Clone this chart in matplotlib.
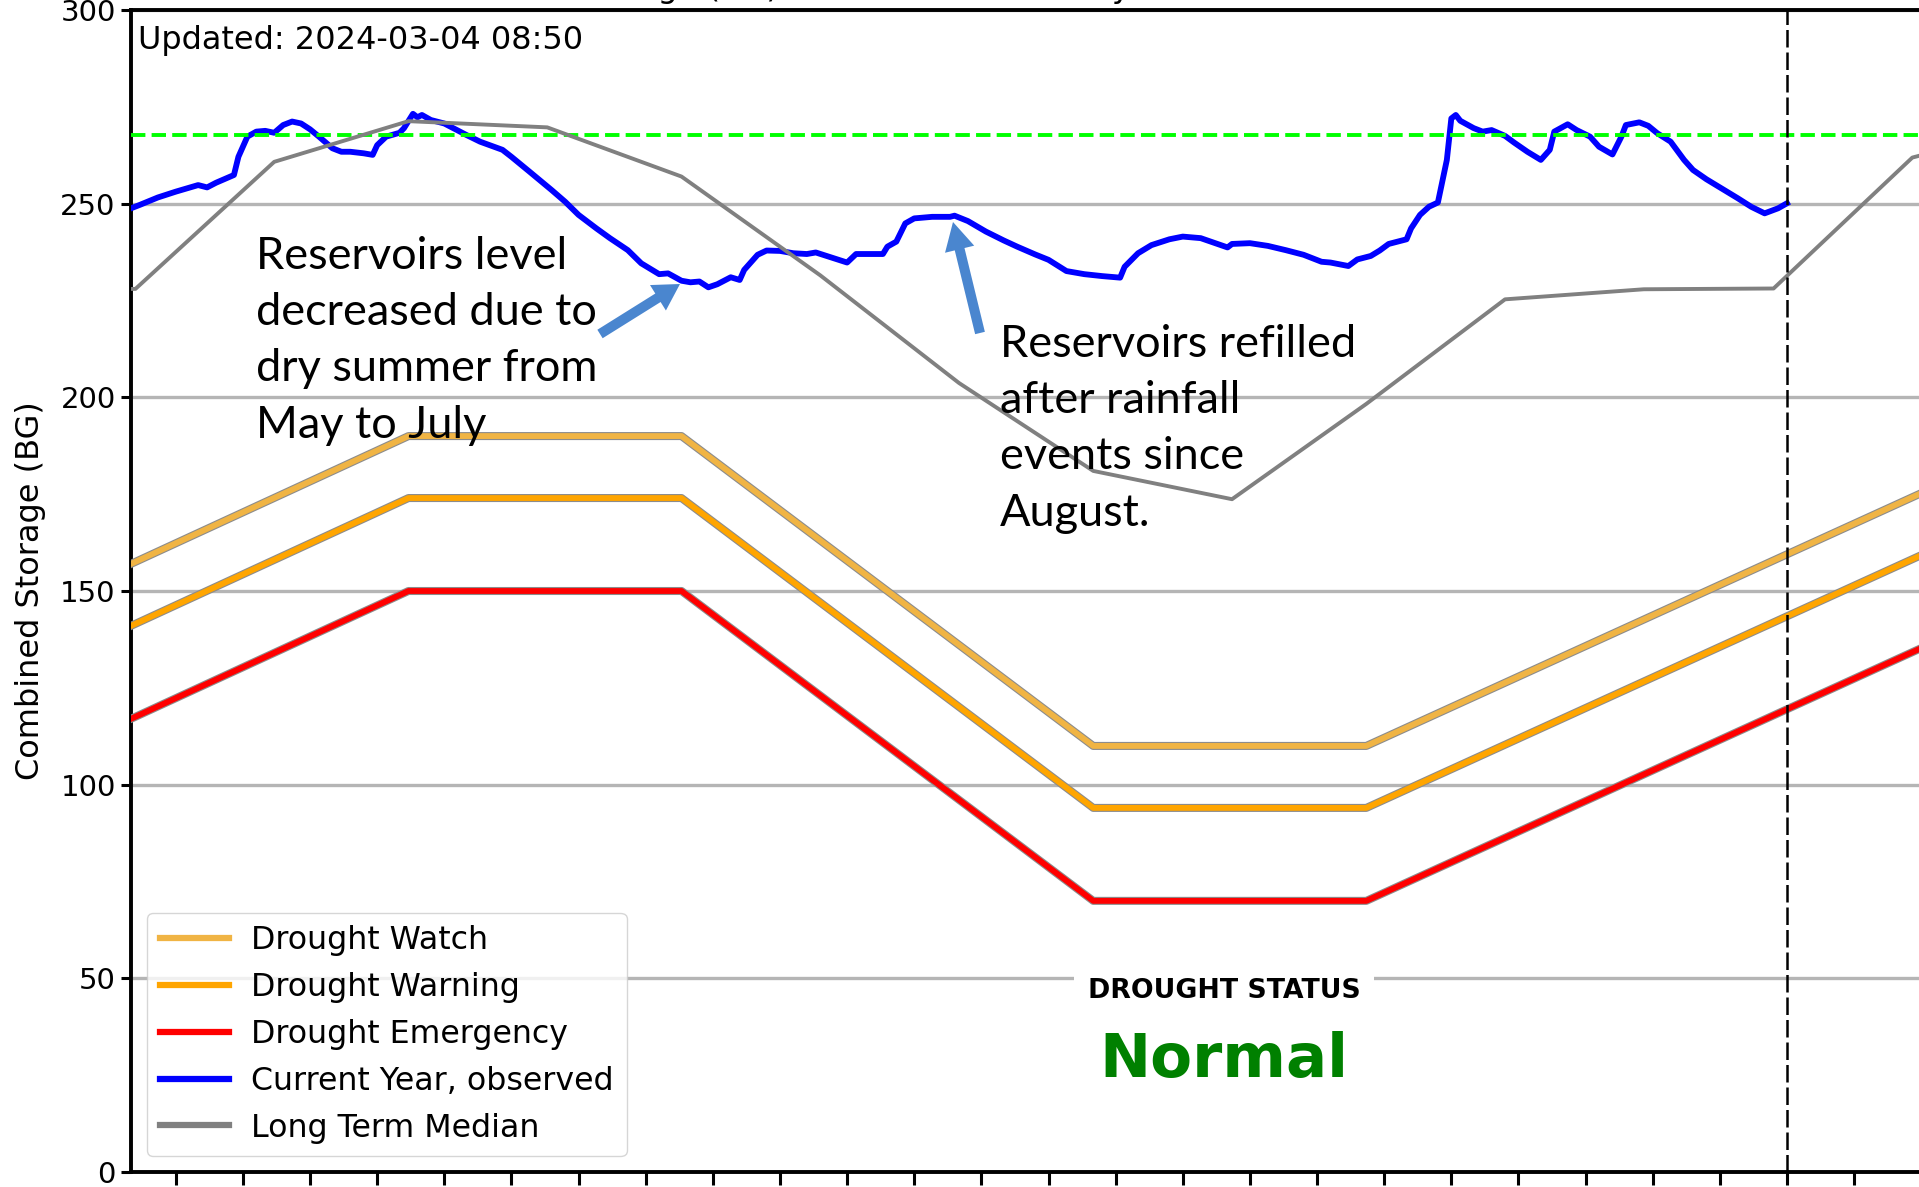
import datetime as dt
import numpy as np
import matplotlib
matplotlib.use("Agg")
import matplotlib.pyplot as plt
import matplotlib.patheffects as pe
from matplotlib.lines import Line2D
from matplotlib.patches import FancyArrow

W, H = 1919, 1187

START = np.datetime64("2023-02-28")
TODAY = np.datetime64("2024-03-04")
END = np.datetime64("2024-05-15")

# drought operating curves (BG) at their breakpoints
curve_dates = ["2023-02-28", "2023-05-01", "2023-07-01", "2023-10-01", "2023-12-01", "2024-05-01"]
watch = [157, 190, 190, 110, 110, 190]
warning = [141, 174, 174, 94, 94, 174]
emergency = [117, 150, 150, 70, 70, 150]

# long term median, 1st of each month
median_dates = ["2023-02-01", "2023-03-01", "2023-04-01", "2023-05-01", "2023-06-01",
                "2023-07-01", "2023-08-01", "2023-09-01", "2023-10-01", "2023-11-01",
                "2023-12-01", "2024-01-01", "2024-02-01", "2024-03-01", "2024-04-01",
                "2024-05-01"]
median = [227.5, 228.0, 260.8, 271.3, 269.7, 257.0, 231.5, 203.7, 181.0, 173.7,
          198.3, 225.3, 227.9, 228.1, 261.9, 271.0]

# current year observed storage (days after START, BG)
obs_day = [0, 2, 6, 10, 15, 17, 19, 23, 24, 26, 28, 30, 32, 34, 36, 38, 40, 42, 45, 47,
           49, 52, 54, 55, 57, 60, 61, 63, 64, 65, 67, 70, 72, 75, 78, 83, 85, 89, 94, 97,
           100, 104, 107, 111, 114, 118, 120, 123, 125, 127, 129, 131, 134, 136, 137, 140,
           142, 145, 148, 151, 153, 157, 160, 162, 165, 168, 169, 171, 173, 175, 179, 183,
           184, 187, 191, 195, 198, 202, 205, 209, 213, 217, 221, 222, 225, 228, 232, 235,
           239, 242, 245, 246, 250, 254, 258, 262, 266, 268, 272, 274, 277, 279, 281, 285,
           286, 288, 290, 292, 294, 295, 296, 297, 300, 302, 304, 307, 309, 312, 315, 317,
           318, 321, 323, 326, 328, 331, 333, 334, 337, 339, 341, 344, 347, 349, 352, 356,
           359, 362, 365, 368, 370]
obs_bg = [248.8, 249.7, 251.6, 253.1, 254.8, 254.2, 255.4, 257.4, 262.1, 267.3, 268.6,
          268.8, 268.3, 270.3, 271.2, 270.7, 269.2, 267.3, 264.3, 263.4, 263.4, 263.0,
          262.6, 265.1, 267.3, 268.3, 269.5, 273.2, 272.3, 272.9, 271.6, 270.7, 269.5,
          267.7, 266.0, 263.9, 262.1, 258.3, 253.5, 250.5, 247.1, 243.6, 241.1, 238.0,
          234.6, 231.8, 232.0, 230.1, 229.7, 229.9, 228.4, 229.2, 231.0, 230.3, 232.9,
          236.8, 237.9, 237.8, 237.2, 237.0, 237.4, 235.9, 234.8, 237.0, 237.0, 237.0,
          238.9, 240.2, 244.9, 246.2, 246.6, 246.6, 246.9, 245.5, 242.8, 240.5, 238.9,
          236.9, 235.5, 232.6, 231.8, 231.3, 230.9, 233.7, 237.2, 239.3, 240.8, 241.5,
          241.1, 239.9, 238.7, 239.6, 239.8, 239.1, 238.0, 236.8, 235.0, 234.8, 233.9,
          235.6, 236.5, 237.9, 239.6, 240.8, 243.6, 247.1, 249.2, 250.3, 261.3, 272.0,
          272.9, 271.4, 269.5, 268.6, 269.0, 267.5, 265.8, 263.4, 261.3, 263.9, 268.6,
          270.5, 269.0, 267.3, 264.7, 262.7, 267.3, 270.3, 271.0, 270.1, 268.2, 266.0,
          261.3, 258.7, 256.3, 253.5, 251.4, 249.2, 247.5, 248.8, 250.1]

normal_level = 267.7

plt.rcParams["font.family"] = "DejaVu Sans"

fig = plt.figure(figsize=(W / 100, H / 100), dpi=100)
px_day = (1787 - 131) / 370.0
ndays = (END - START).astype(int)
ax = fig.add_axes([131 / W, (H - 1172) / H, ndays * px_day / W, (1172 - 10) / H])

cd = np.array(curve_dates, dtype="datetime64[D]")
md = np.array(median_dates, dtype="datetime64[D]")
od = START + np.array(obs_day).astype("timedelta64[D]")

def outlined(lw):
    return [pe.Stroke(linewidth=lw + 1.6, foreground="#8c8c8c"), pe.Normal()]

ax.plot(cd, watch, color="#f0b444", lw=4.2, path_effects=outlined(4.2), zorder=3)
ax.plot(cd, warning, color="#ffa500", lw=4.2, path_effects=outlined(4.2), zorder=3)
ax.plot(cd, emergency, color="#ff0000", lw=4.2, path_effects=outlined(4.2), zorder=3)
ax.plot(od, obs_bg, color="#0000ff", lw=4.2, zorder=4)
ax.plot(md, median, color="#808080", lw=2.8, zorder=5)
ax.axhline(normal_level, color="#00ff00", lw=2.8, ls="--", zorder=4)
ax.axvline(TODAY, color="black", lw=1.8, ls=(0, (7, 2)), zorder=6)

ax.set_xlim(START, END)
ax.set_ylim(0, 300)
ax.set_yticks(range(0, 301, 50))
ticks = [TODAY + np.timedelta64(15 * k, "D") for k in range(-24, 5)]
ax.set_xticks(ticks)
ax.tick_params(axis="x", labelbottom=False, length=9, width=2.2)
ax.tick_params(axis="y", labelsize=21, length=7, width=2.2, pad=4)
for s in ax.spines.values():
    s.set_linewidth(2.8)
ax.grid(axis="y", color="#b5b5b5", lw=2.4)
ax.set_axisbelow(True)
ax.set_ylabel("Combined Storage (BG)", fontsize=23, labelpad=10)

handles = [Line2D([], [], color="#f0b444", lw=4.5),
           Line2D([], [], color="#ffa500", lw=4.5),
           Line2D([], [], color="#ff0000", lw=4.5),
           Line2D([], [], color="#0000ff", lw=4.5),
           Line2D([], [], color="#808080", lw=4.5)]
labels = ["Drought Watch", "Drought Warning", "Drought Emergency",
          "Current Year, observed", "Long Term Median"]
ax.legend(handles, labels, loc="lower left", fontsize=22.8, handlelength=2.2,
          handletextpad=0.7, labelspacing=0.5, borderaxespad=0.5)

# overlay in pixel coordinates for the text notes and arrows
ov = fig.add_axes([0, 0, 1, 1], facecolor="none", zorder=10)
ov.set_xlim(0, W)
ov.set_ylim(H, 0)
ov.axis("off")

ov.text(400, -3, "Combined Storage (BG) over the last 365 days", fontsize=23,
        va="baseline", ha="left")
ov.text(138, 40, "Updated: 2024-03-04 08:50", fontsize=23, va="center", ha="left")
ov.text(1224, 991, "DROUGHT STATUS", fontsize=19.3, fontweight="bold", ha="center",
        va="center", bbox=dict(facecolor="white", edgecolor="none", pad=10))
ov.text(1224, 1060, "Normal", fontsize=44, fontweight="bold", color="green",
        ha="center", va="center")

note_font = dict(family="Lato", fontsize=32.5, linespacing=1.46, va="top", ha="left")
ov.text(256, 236, "Reservoirs level\ndecreased due to\ndry summer from\nMay to July", **note_font)
ov.text(1000, 324, "Reservoirs refilled\nafter rainfall\nevents since\nAugust.", **note_font)

arrow_col = "#4a86cf"
ov.add_patch(FancyArrow(600, 334, 80, -50, width=10, head_width=30, head_length=26,
                        length_includes_head=True, color=arrow_col, lw=0))
ov.add_patch(FancyArrow(980, 333, -27, -111, width=10, head_width=30, head_length=28,
                        length_includes_head=True, color=arrow_col, lw=0))

fig.savefig("out.png", dpi=100)
